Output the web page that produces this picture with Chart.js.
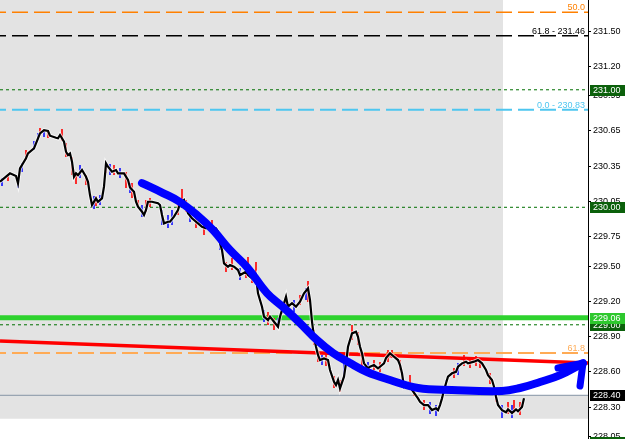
<!DOCTYPE html>
<html><head><meta charset="utf-8">
<script src="https://cdn.jsdelivr.net/npm/chart.js@4.4.0/dist/chart.umd.min.js"></script>
<style>html,body{margin:0;padding:0;background:#fff;}#wrap{width:625px;height:439px;position:relative;}</style>
</head><body><div id="wrap"><canvas id="c"></canvas></div>
<script>
// ---- data ----
const barIndex = [0,5,8,9,10,13,14,17,19,20,22,24,25,28,29,30,32,33,34,35,36,37,38,39,41,43,44,45,46,48,49,51,52,53,54,56,58,59,62,64,65,67,68,69,71,72,73,74,76,79,80,81,82,84,85,87,89,90,92,93,94,96,98,99,101,103,104,106,108,109,110,111,112,114,115,117,119,120,123,124,127,128,129,131,132,134,135,137,139,140,142,143,144,146,148,150,152,154,155,156,157,158,159,160,162,164,165,167,168,169,170,172,173,174,176,178,179,180,181,182,184,185,187,189,190,192,193,195,196,199,200,201,202,204,206,209,210,212,214,216,218,219,220,221,222,223,224,226,228,229,231,233,234,237,239,241,243,244,246,247,248,249,251,253,254,256,258,259,261,262];
const closePrice = [230.217,230.289,230.266,230.204,230.331,230.417,230.459,230.502,230.587,230.629,230.657,230.649,230.609,230.592,230.587,230.615,230.558,230.473,230.445,230.459,230.388,230.260,230.289,230.274,230.317,230.260,230.217,230.104,230.019,230.076,230.047,230.076,230.175,230.374,230.345,230.303,230.317,230.289,230.289,230.232,230.168,230.132,230.047,230.005,229.962,229.934,229.977,230.047,230.047,230.034,230.019,229.934,229.863,229.877,229.877,229.920,229.977,230.034,230.062,230.005,229.949,229.906,229.877,229.863,229.834,229.821,229.834,229.834,229.821,229.792,229.693,229.636,229.523,229.494,229.509,229.494,229.466,229.423,229.451,229.423,229.381,229.415,229.268,229.154,229.069,229.040,229.069,229.026,228.983,229.069,229.183,229.239,229.154,229.183,229.154,229.196,229.268,229.310,229.211,229.026,228.898,228.813,228.743,228.700,228.714,228.700,228.615,228.515,228.487,228.530,228.459,228.558,228.672,228.813,228.927,228.941,228.898,228.813,228.757,228.672,228.629,228.643,228.657,228.629,228.643,228.672,228.717,228.757,228.743,228.700,228.657,228.587,228.473,228.502,228.445,228.374,228.345,228.317,228.317,228.274,228.289,228.274,228.317,228.374,228.445,228.502,228.558,228.587,228.600,228.643,228.672,228.686,228.672,228.686,228.700,228.672,228.615,228.572,228.530,228.473,228.388,228.317,228.274,228.255,228.280,228.250,228.280,228.265,228.300,228.374];
// wicks: [bar, low, high]
const redWicks = [[4,230.224,230.275],[13,230.402,230.487],[20,230.632,230.675],[24,230.589,230.640],[31,230.564,230.666],[33,230.428,230.547],[36,230.275,230.428],[38,230.198,230.292],[43,230.190,230.275],[48,230.011,230.096],[53,230.292,230.377],[57,230.275,230.360],[63,230.164,230.300],[66,230.079,230.206],[69,229.994,230.062],[73,229.960,230.062],[75,230.002,230.079],[89,229.934,230.019],[91,230.019,230.155],[93,229.960,230.062],[98,229.824,229.909],[102,229.764,229.849],[106,229.790,229.892],[113,229.449,229.534],[116,229.466,229.568],[123,229.398,229.509],[124,229.466,229.576],[126,229.355,229.466],[128,229.398,229.534],[134,228.998,229.109],[137,228.955,229.058],[143,229.143,229.245],[150,229.168,229.253],[154,229.194,229.372],[157,228.828,228.955],[159,228.683,228.785],[163,228.649,228.743],[167,228.462,228.564],[170,228.428,228.530],[176,228.870,228.998],[179,228.828,228.938],[181,228.632,228.743],[187,228.615,228.700],[190,228.598,228.683],[194,228.683,228.785],[196,228.717,228.785],[200,228.615,228.700],[205,228.479,228.572],[207,228.394,228.462],[212,228.274,228.360],[227,228.547,228.632],[232,228.649,228.743],[235,228.632,228.717],[238,228.649,228.734],[240,228.632,228.717],[245,228.496,228.589],[248,228.343,228.445],[254,228.240,228.343],[257,228.249,228.360],[260,228.232,228.343]];
const blueWicks = [[1,230.181,230.249],[9,230.164,230.249],[11,230.300,230.377],[17,230.487,230.564],[19,230.572,230.632],[22,230.598,230.658],[40,230.249,230.360],[47,229.985,230.096],[50,230.019,230.104],[55,230.275,230.368],[60,230.249,230.334],[65,230.121,230.206],[71,229.917,230.019],[81,229.849,229.977],[84,229.824,229.934],[86,229.849,229.977],[95,229.875,229.977],[110,229.636,229.755],[120,229.381,229.483],[132,229.024,229.126],[139,228.972,229.058],[141,229.092,229.194],[147,229.109,229.211],[153,229.211,229.313],[161,228.657,228.743],[172,228.547,228.700],[184,228.598,228.683],[215,228.240,228.343],[218,228.223,228.317],[223,228.428,228.530],[229,228.572,228.674],[251,228.206,228.317],[256,228.206,228.317]];
// hand-drawn blue curve and arrowhead
const curveBars = [71,81.5,90,98.5,106.5,115,123.5,133.5,141.5,150,158.5,166.5,175,183.5,195,209,226,251,260,270,280,291.5];
const curvePrices = [230.206,230.121,230.045,229.934,229.806,229.636,229.491,229.270,229.151,229.015,228.870,228.760,228.674,228.598,228.530,228.462,228.445,228.436,228.462,228.513,228.572,228.674];
const arrowBars = [279,291.5,290];
const arrowPrices = [228.632,228.674,228.479];
// red trendline
const trendBars = [0,294];
const trendPrices = [228.862,228.674];
// horizontal levels
const fibLevels = {fib50:231.659, fib618Top:231.46, fib0:230.83, fib618Low:228.76};
const dottedLevels = [231.00,230.00,229.00,228.00];
const supportLevel = 229.06;
const priceLine = 228.40;
const zoneEndBar = 251.5;
const zoneBottom = 228.20;
const lastBar = 294;
const yMax = 231.764, yMin = 228.028;
const yTicks = [231.50,231.20,230.95,230.65,230.35,230.05,229.75,229.50,229.20,228.90,228.60,228.30,228.05];
const fibTexts = [['50.0',fibLevels.fib50],['61.8 - 231.46',fibLevels.fib618Top],['0.0 - 230.83',fibLevels.fib0],['61.8',fibLevels.fib618Low]];
const axisTagValues = [231.00,230.00,229.00,229.06,228.40,228.00];

// ---- styles ----
const fibColors = ['#ff8000','#000000','#4ec6f0','#ffab55'];
const fibLineWidths = [1.5,1.5,2,2];
const tagStyle = {
  '231.00':['#0b600b','#ffffff'], '230.00':['#0b600b','#ffffff'], '229.00':['#0b600b','#ffffff'],
  '229.06':['#2ec82e','#ffffff'], '228.40':['#000000','#ffffff'], '228.00':['#0b600b','#ffffff']
};

const hLine = (v) => [{x:0,y:v},{x:lastBar,y:v}];
const wickData = (arr) => { const d=[]; arr.forEach(w=>{d.push({x:w[0],y:w[1]},{x:w[0],y:w[2]},{x:w[0],y:null});}); return d; };
const xy = (xs, ys) => xs.map((x,i)=>({x, y:ys[i]}));

const datasets = [];
datasets.push({label:'zone', data:[{x:0,y:yMax},{x:zoneEndBar,y:yMax},{x:zoneEndBar,y:priceLine},{x:lastBar,y:priceLine}],
  borderWidth:0, backgroundColor:'#e3e3e3', fill:{value:zoneBottom}, tension:0, order:100});
dottedLevels.forEach(v=>datasets.push({data:hLine(v), borderColor:'#007000', borderWidth:1, borderDash:[3,3], order:90}));
Object.values(fibLevels).forEach((v,i)=>datasets.push({data:hLine(v), borderColor:fibColors[i], borderWidth:fibLineWidths[i], borderDash:[16,6], borderDashOffset:10, order:85}));
datasets.push({data:hLine(priceLine), borderColor:'#8595a5', borderWidth:1, order:80});
datasets.push({data:hLine(supportLevel), borderColor:'#2ed22e', borderWidth:5, order:75});
datasets.push({data:xy(trendBars,trendPrices), borderColor:'#ff0000', borderWidth:3.5, order:70});
datasets.push({data:wickData(redWicks), borderColor:'#ff0000', borderWidth:1.6, spanGaps:false, order:60});
datasets.push({data:wickData(blueWicks), borderColor:'#1010ff', borderWidth:1.6, spanGaps:false, order:60});
datasets.push({data:xy(barIndex,closePrice), borderColor:'rgba(255,255,255,0.7)', borderWidth:4, order:50});
datasets.push({data:xy(barIndex,closePrice), borderColor:'#000000', borderWidth:2.2, order:40});
datasets.push({data:xy(curveBars,curvePrices), borderColor:'#0000ff', borderWidth:8, tension:0.4, borderCapStyle:'round', borderJoinStyle:'round', order:10});
datasets.push({data:xy(arrowBars,arrowPrices), borderColor:'#0000ff', borderWidth:7, tension:0, borderCapStyle:'round', borderJoinStyle:'round', order:9});

const tagPlugin = {
  id:'tags',
  afterDraw(chart){
    const ctx = chart.ctx, ys = chart.scales.y, a = chart.chartArea;
    ctx.save();
    ctx.beginPath(); ctx.rect(a.left,a.top,a.right-a.left,a.bottom-a.top); ctx.clip();
    ctx.font = '9px "Liberation Sans"';
    ctx.textAlign = 'right'; ctx.textBaseline = 'alphabetic';
    fibTexts.forEach((t,i)=>{ ctx.fillStyle = fibColors[i]; ctx.fillText(t[0], a.right-3, ys.getPixelForValue(t[1])-2); });
    ctx.restore();
    ctx.save();
    ctx.font = '9px "Liberation Sans"';
    ctx.textAlign = 'left'; ctx.textBaseline = 'middle';
    axisTagValues.forEach(v=>{
      const key = v.toFixed(2), st = tagStyle[key];
      const py = Math.round(ys.getPixelForValue(v));
      ctx.fillStyle = st[0]; ctx.fillRect(a.right+2, py-5, 35, 11);
      ctx.fillStyle = st[1]; ctx.fillText(key, a.right+5, py+0.5);
    });
    ctx.restore();
  }
};

new Chart(document.getElementById('c'), {
  type:'line',
  data:{datasets},
  options:{
    responsive:true, maintainAspectRatio:false, animation:false, events:[],
    layout:{padding:0},
    elements:{point:{radius:0}, line:{fill:false}},
    plugins:{legend:{display:false}, tooltip:{enabled:false}},
    scales:{
      x:{type:'linear', min:0, max:lastBar, display:false, offset:false},
      y:{position:'right', min:yMin, max:yMax,
        afterBuildTicks:s=>{ s.ticks = yTicks.map(v=>({value:v})); },
        afterFit:s=>{ s.width = 37; s.paddingTop = 0; s.paddingBottom = 0; },
        ticks:{autoSkip:false, padding:2, color:'#000', font:{family:'Liberation Sans', size:9}, callback:v=>Number(v).toFixed(2)},
        grid:{drawOnChartArea:false, drawTicks:true, tickLength:3, color:'#000'},
        border:{display:true, color:'#000', width:1}
      }
    }
  },
  plugins:[tagPlugin]
});
</script></body></html>
